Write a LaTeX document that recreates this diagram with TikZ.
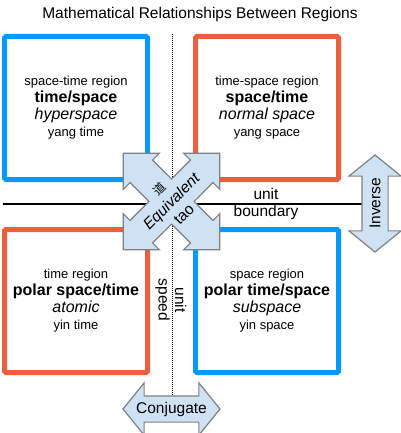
\documentclass[tikz,border=0pt]{standalone}
\usepackage{fontspec}
\setmainfont{Liberation Sans}
\newfontfamily\cjk{Noto Sans CJK SC}
\usepackage{tikz}
\usetikzlibrary{shapes.arrows,positioning}
\definecolor{regblue}{RGB}{0,153,255}
\definecolor{regred}{RGB}{234,96,60}
\definecolor{arrfill}{RGB}{207,226,243}
\definecolor{arrdraw}{RGB}{128,128,128}
\newcommand{\smtxt}{\fontsize{13}{17}\selectfont}
\newcommand{\lgtxt}{\fontsize{16}{17}\selectfont}

\begin{document}
\begin{tikzpicture}
[   x=1pt, y=-1pt,
    region/.style={draw, line width=5pt, rounded corners=1.5pt, minimum width=143pt, minimum height=143pt, align=center, inner sep=0pt, font=\smtxt},
    bigarrow/.style={double arrow, draw=arrdraw, fill=arrfill, line width=1.2pt, double arrow tip angle=102, double arrow head extend=13pt, minimum height=97pt, inner xsep=0pt, inner ysep=12.5pt},
    arrowbox/.style={draw=arrdraw, fill=arrfill, line width=1.2pt, line join=miter},
    lbl/.style={align=center, font=\fontsize{15.5}{16.5}\selectfont}, ]

    \useasboundingbox (0,0) rectangle (400,433);

    \node[font=\fontsize{15.5}{17}\selectfont, anchor=base] (title) at (200,18.5) {Mathematical Relationships Between Regions};

    \node[region, draw=regblue] (st) at (76,108) {space-time region\\{\lgtxt\bfseries time/space}\\{\lgtxt\itshape hyperspace}\\yang time};
    \node[region, draw=regred] (ts) at (267,108) {time-space region\\{\lgtxt\bfseries space/time}\\{\lgtxt\itshape normal space}\\yang space};
    \node[region, draw=regred] (tr) at (76,301) {time region\\{\lgtxt\bfseries polar space/time}\\{\lgtxt\itshape atomic}\\yin time};
    \node[region, draw=regblue] (sr) at (267,301) {space region\\{\lgtxt\bfseries polar time/space}\\{\lgtxt\itshape subspace}\\yin space};

    \coordinate (hl) at (3,204);
    \coordinate (hr) at (363,204);
    \coordinate (vt) at (172,34);
    \coordinate (vb) at (172,395);
    \draw[line width=1.3pt] (hl) -- (hr);
    \draw[densely dotted, line width=1pt] (vt) -- (vb);

    \node[lbl] (ub) at (266,204) {unit\\boundary};
    \node[lbl, rotate=-90] (us) at (171,300) {unit\\speed};

    \node[bigarrow, rotate=90] (inv) at (375,203.5) {};
    \node[lbl, rotate=90] (invtxt) at (inv.center) {Inverse};
    \node[bigarrow] (conj) at (171.5,409) {};
    \node[lbl] (conjtxt) at (conj.center) {Conjugate};

    % four-way cross
    \begin{scope}[shift={(171.5,201.5)}]
    \draw[arrowbox] (0:22.6) \foreach \a in {45,135,225,315} { -- (\a-45:22.6) -- (\a-20.5:45.6) -- (\a-30.8:49.7) -- (\a:68.2) -- (\a+30.8:49.7) -- (\a+20.5:45.6) } -- cycle;
    \end{scope}
    \node[lbl, rotate=45, font=\fontsize{15.5}{17.7}\selectfont] (eq) at (171.5,201.5) {{\cjk\fontsize{12}{17.7}\selectfont 道}\\{\itshape Equivalent}\\tao};

\end{tikzpicture}
\end{document}
